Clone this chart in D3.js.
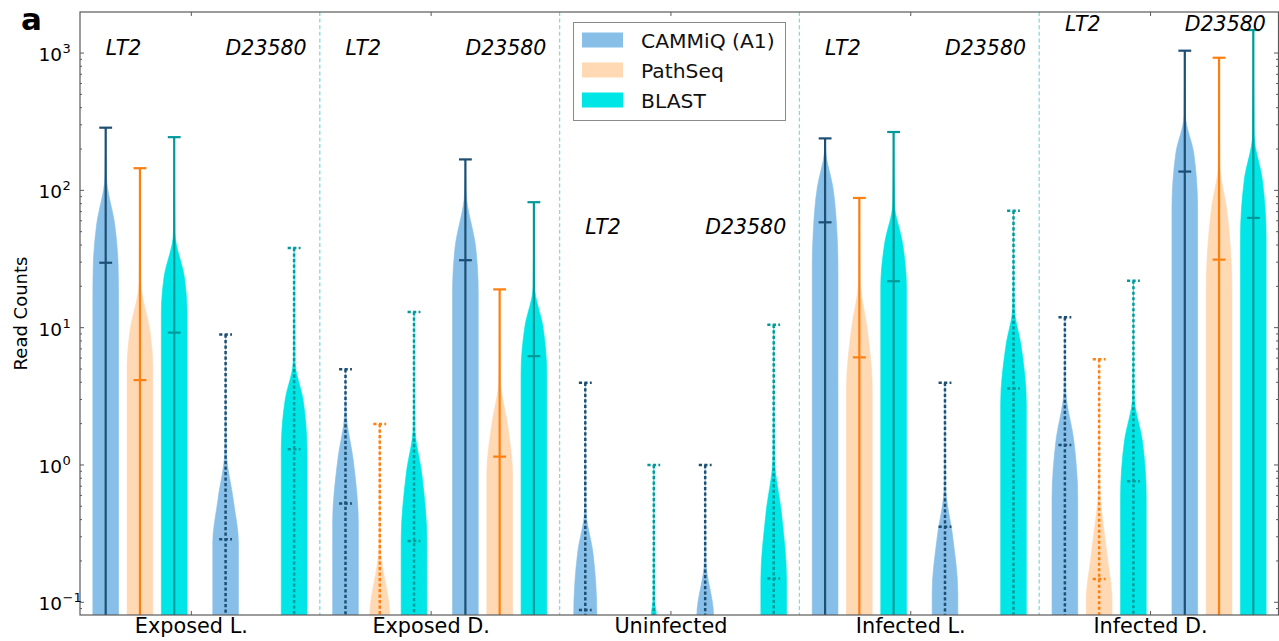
<!DOCTYPE html>
<html><head><meta charset="utf-8">
<script src="https://cdn.jsdelivr.net/npm/d3@7"></script>
<style>body{margin:0;background:#fff} svg{display:block;font-family:"DejaVu Sans",sans-serif}</style>
</head><body><svg id="c" width="1279" height="641"></svg>
<script>
// ---------------- data ----------------
const groups = ["Exposed L.", "Exposed D.", "Uninfected", "Infected L.", "Infected D."];
const strains = ["LT2", "D23580"];
const methods = ["CAMMiQ (A1)", "PathSeq", "BLAST"];
// strain actually used for infection in each group (solid lines), null = none
const trueStrain = ["LT2", "D23580", null, "LT2", "D23580"];
// y position (read counts) of the strain annotations per group
const strainLabelAt = [1000, 1000, 50, 1000, 1500];

// index = group*2 + strain  (LT2, D23580)
const cammiqMax  = [286, 8.9, 4.97, 168, 3.97, 1.0, 239, 3.97, 11.9, 1040];
const pathseqMax = [145, null, 1.99, 19, null, null, 88, null, 5.9, 924];
const blastMax   = [244, 38, 13, 82, 1.0, 10.5, 266, 71, 22, 1470];

const cammiqMed  = [29.7, 0.288, 0.525, 31, 0.088, 0.05, 58.5, 0.355, 1.40, 137];
const pathseqMed = [4.15, null, 0.05, 1.15, null, null, 6.08, null, 0.148, 31.3];
const blastMed   = [9.2, 1.3, 0.28, 6.2, 0.05, 0.149, 21.8, 3.6, 0.76, 63];

// violin outlines: [read count, relative half width]
const cammiqShape = [
  [[125,0.06],[55,0.72],[28,0.97],[16,1]],
  [[1.28,0.06],[0.555,0.6],[0.27,1]],
  [[2.39,0.06],[1.09,0.6],[0.378,1]],
  [[95,0.06],[38.6,0.8],[17.9,1]],
  [[0.47,0.06],[0.228,0.6],[0.08,0.9]],
  [[0.2,0.06],[0.08,0.65]],
  [[186,0.06],[106,0.6],[50,0.92],[27.6,1]],
  [[0.69,0.06],[0.30,0.6],[0.117,1]],
  [[3.58,0.06],[1.49,0.7],[0.58,1]],
  [[348,0.06],[186,0.7],[72.6,1]]
];
const pathseqShape = [
  [[22,0.06],[9.1,0.8],[5.2,1]],
  null,
  [[0.253,0.06],[0.08,0.77]],
  [[4.15,0.06],[2.0,0.6],[0.87,1]],
  null, null,
  [[22,0.06],[10,0.6],[3.7,1]],
  null,
  [[0.70,0.06],[0.228,0.6],[0.104,1]],
  [[154,0.06],[72.6,0.6],[18.3,1]]
];
const blastShape = [
  [[49,0.06],[23,0.8],[12.8,1]],
  [[5.8,0.06],[2.97,0.7],[1.28,1]],
  [[1.9,0.06],[0.87,0.6],[0.28,1]],
  [[19.9,0.06],[10.2,0.7],[4.67,1]],
  [[0.104,0.06],[0.08,0.2]],
  [[1.14,0.06],[0.447,0.6],[0.145,1]],
  [[81,0.06],[41,0.7],[19.8,1]],
  [[14.2,0.06],[7.3,0.6],[2.8,1]],
  [[3.18,0.06],[1.49,0.7],[0.58,1]],
  [[254,0.06],[120,0.7],[44,1]]
];
const yTickValues = [0.1, 1, 10, 100, 1000];
const yTickExp = ["-1", "0", "1", "2", "3"];

// ---------------- layout ----------------
const L = 80, R = 1279, T = 12, B = 615;
const fills = ["#87bfe8", "#ffd8b4", "#00e6e6"];
const lines = ["#1c4f73", "#ff7f0e", "#009a9a"];
const maxs = [cammiqMax, pathseqMax, blastMax];
const meds = [cammiqMed, pathseqMed, blastMed];
const shapes = [cammiqShape, pathseqShape, blastShape];

const svg = d3.select("#c");
const x = d3.scaleLinear().domain([0, groups.length * 7]).range([L, R]);
const y = d3.scaleLog().domain([0.0808, 1990]).range([B, T]);
const groupCenter = g => 7 * g + 3.25;
const pos = (g, s, m) => groupCenter(g) + (s === 0 ? -2.5 + m : 1 + m);
const hw = x(0.375) - x(0);
const capHw = x(0.1875) - x(0);
const DOT = "3.2,2.3";

svg.append("defs").append("clipPath").attr("id", "clip")
  .append("rect").attr("x", L).attr("y", T).attr("width", R - L).attr("height", B - T);

const plot = svg.append("g").attr("clip-path", "url(#clip)");

// group separators
for (let g = 1; g < groups.length; g++) {
  plot.append("line").attr("x1", x(7 * g)).attr("x2", x(7 * g))
    .attr("y1", T).attr("y2", B)
    .attr("stroke", "#84dadf").attr("stroke-width", 1.3).attr("stroke-dasharray", "4,2.6");
}

// violins
groups.forEach((gName, g) => {
  strains.forEach((sName, s) => {
    const i = g * 2 + s;
    methods.forEach((mName, m) => {
      const mx = maxs[m][i];
      if (mx == null) return;
      const cx = x(pos(g, s, m));
      const shp = shapes[m][i];
      const pts = [[mx, 0], ...shp, [0.01, shp[shp.length - 1][1]]];
      const area = d3.area().curve(d3.curveMonotoneY)
        .y(d => y(d[0])).x0(d => cx - d[1] * hw).x1(d => cx + d[1] * hw);
      plot.append("path").attr("d", area(pts)).attr("fill", fills[m])
        .attr("stroke", fills[m]).attr("stroke-width", 0.6);
      const dotted = trueStrain[g] !== sName;
      const gl = plot.append("g").attr("stroke", lines[m]).attr("stroke-width", dotted ? 2.5 : 2.2)
        .attr("stroke-dasharray", dotted ? DOT : null);
      gl.append("line").attr("x1", cx).attr("x2", cx).attr("y1", y(mx)).attr("y2", B + 10);
      gl.append("line").attr("x1", cx - capHw).attr("x2", cx + capHw).attr("y1", y(mx)).attr("y2", y(mx));
      const md = meds[m][i];
      gl.append("line").attr("x1", cx - capHw).attr("x2", cx + capHw).attr("y1", y(md)).attr("y2", y(md));
    });
    // strain annotation
    svg.append("text").attr("x", x(pos(g, s, 0))).attr("y", y(strainLabelAt[g]) + 2)
      .attr("font-size", 20.5).attr("font-style", "italic").attr("fill", "#000").text(sName);
  });
});

// frame
svg.append("rect").attr("x", L).attr("y", T).attr("width", R - L - 0.5).attr("height", B - T)
  .attr("fill", "none").attr("stroke", "#5a5a5a").attr("stroke-width", 1.2);

// y ticks
const minors = [];
for (let e = -2; e <= 3; e++) for (let k = 2; k <= 9; k++) {
  const v = k * Math.pow(10, e);
  if (v > 0.0808 && v < 1990) minors.push(v);
}
const tickG = svg.append("g").attr("stroke", "#5a5a5a");
yTickValues.forEach(v => {
  tickG.append("line").attr("x1", L).attr("x2", L + 4).attr("y1", y(v)).attr("y2", y(v));
  tickG.append("line").attr("x1", R - 1).attr("x2", R - 5).attr("y1", y(v)).attr("y2", y(v));
});
minors.forEach(v => {
  tickG.append("line").attr("x1", L).attr("x2", L + 2).attr("y1", y(v)).attr("y2", y(v));
  tickG.append("line").attr("x1", R - 1).attr("x2", R - 3).attr("y1", y(v)).attr("y2", y(v));
});
groups.forEach((gName, g) => {
  const cx = x(groupCenter(g));
  tickG.append("line").attr("x1", cx).attr("x2", cx).attr("y1", T).attr("y2", T + 4);
  tickG.append("line").attr("x1", cx).attr("x2", cx).attr("y1", B).attr("y2", B - 4);
  svg.append("text").attr("x", cx).attr("y", 633).attr("text-anchor", "middle")
    .attr("font-size", 20.8).attr("fill", "#000").text(gName);
});
yTickValues.forEach((v, k) => {
  svg.append("text").attr("x", 62).attr("y", y(v) + 8).attr("text-anchor", "end")
    .attr("font-size", 18.5).attr("fill", "#000").text("10");
  svg.append("text").attr("x", 62.5).attr("y", y(v)).attr("font-size", 13).attr("fill", "#000")
    .text(yTickExp[k].replace("-", "\u2212"));
});

// y label
svg.append("text").attr("transform", `translate(27,${(T + B) / 2}) rotate(-90)`)
  .attr("text-anchor", "middle").attr("font-size", 18).attr("fill", "#000").text("Read Counts");

// panel letter
svg.append("text").attr("x", 21).attr("y", 30).attr("font-size", 31).attr("font-weight", "bold")
  .attr("fill", "#000").text("a");

// legend
const lg = svg.append("g");
lg.append("rect").attr("x", 573.5).attr("y", 22.5).attr("width", 212).attr("height", 98)
  .attr("fill", "#fff").attr("stroke", "#8a8a8a").attr("stroke-width", 1);
methods.forEach((mName, m) => {
  const cy = 40 + m * 30;
  lg.append("rect").attr("x", 582).attr("y", cy - 7.5).attr("width", 41).attr("height", 15).attr("fill", fills[m]);
  lg.append("text").attr("x", 641).attr("y", cy + 7.5).attr("font-size", 20.3).attr("fill", "#111").text(mName);
});
</script></body></html>
